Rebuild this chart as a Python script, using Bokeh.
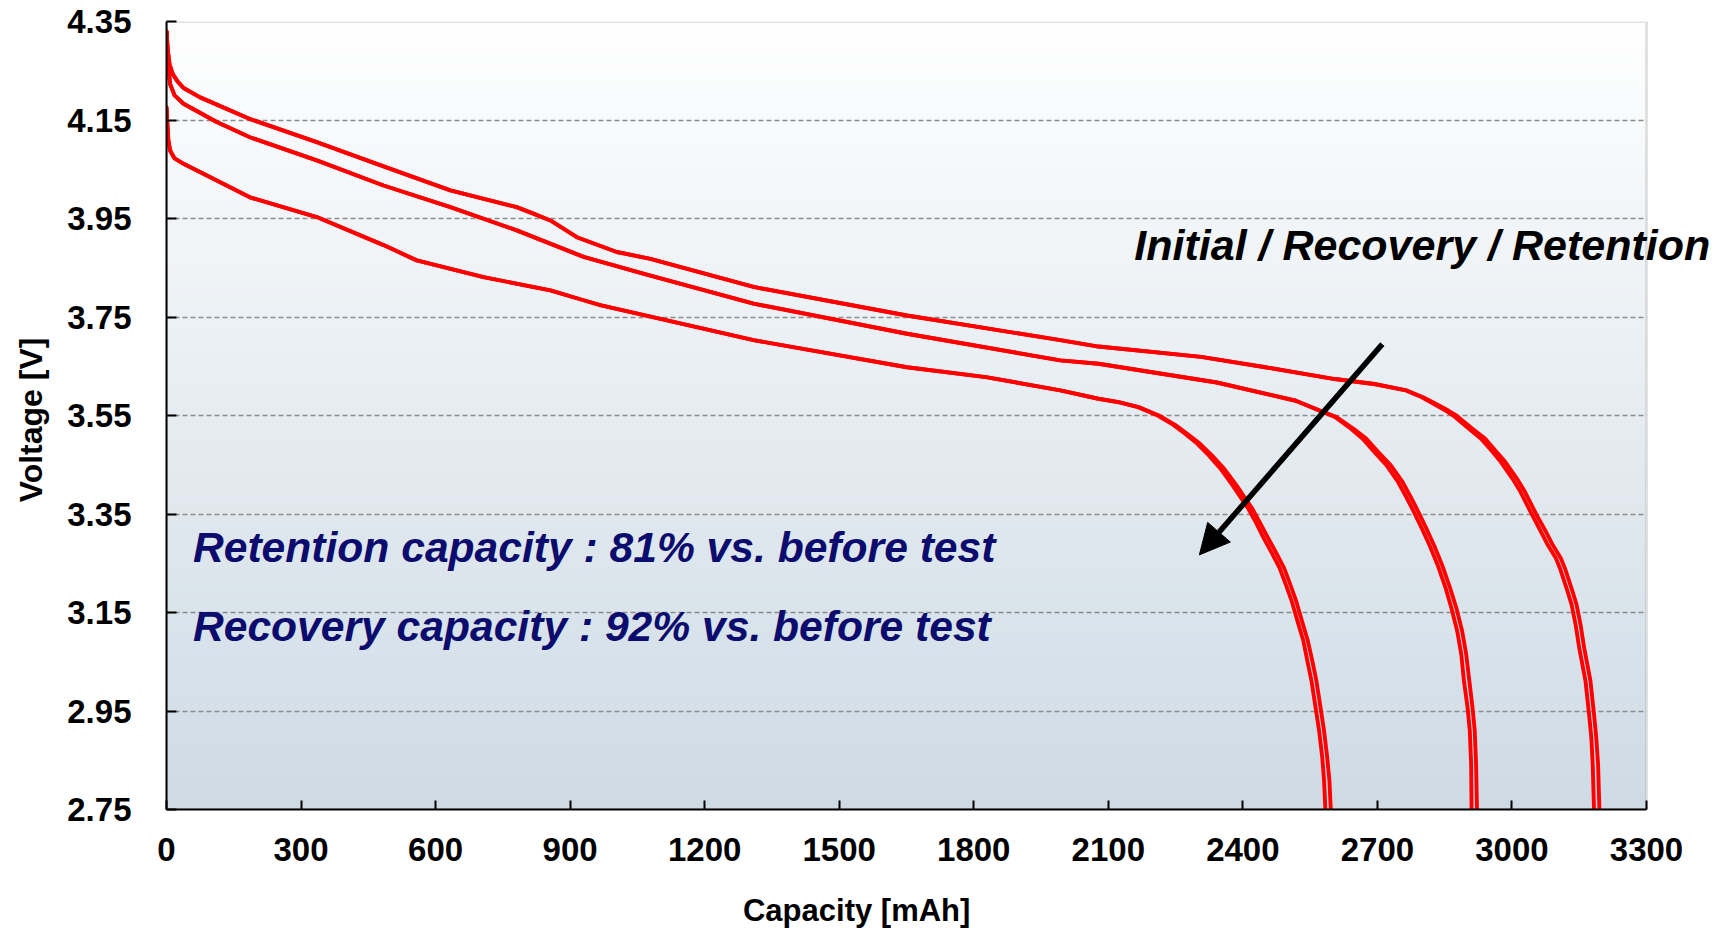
import numpy as np
from bokeh.plotting import figure
from bokeh.models import (Label, Arrow, NormalHead, FixedTicker, Range1d, PrintfTickFormatter,
                          BoxAnnotation)
from bokeh.embed import file_html
from bokeh.resources import INLINE

# ---------------- data ----------------
x_ticks = [0, 300, 600, 900, 1200, 1500, 1800, 2100, 2400, 2700, 3000, 3300]
y_ticks = [2.75, 2.95, 3.15, 3.35, 3.55, 3.75, 3.95, 4.15, 4.35]

# Initial (two runs)
initial_a_cap = [0, 3, 7, 14, 25, 38, 75, 186, 335, 484, 633, 781, 818, 856, 915, 1004, 1079, 1309, 1651,
                 1993, 2078, 2307, 2450, 2605, 2693, 2764, 2799, 2825, 2852, 2869, 2904, 2931, 2957, 2975,
                 3001, 3019, 3045, 3063, 3080, 3098, 3107, 3124, 3133, 3142, 3150, 3164, 3172, 3177, 3180,
                 3183]
initial_v = [4.33, 4.29, 4.262, 4.243, 4.228, 4.215, 4.196, 4.152, 4.105, 4.056, 4.007, 3.973, 3.960,
             3.946, 3.912, 3.882, 3.868, 3.811, 3.753, 3.703, 3.690, 3.669, 3.648, 3.624, 3.614, 3.601,
             3.587, 3.574, 3.560, 3.550, 3.523, 3.503, 3.476, 3.456, 3.422, 3.395, 3.348, 3.317, 3.287,
             3.260, 3.240, 3.193, 3.166, 3.125, 3.078, 3.011, 2.943, 2.896, 2.842, 2.75]
initial_b_cap = [0, 3, 7, 14, 25, 38, 75, 186, 335, 484, 633, 781, 818, 856, 915, 1004, 1079, 1309, 1651,
                 1993, 2078, 2307, 2450, 2605, 2693, 2764, 2802, 2830, 2858, 2876, 2912, 2940, 2966, 2985,
                 3011, 3029, 3055, 3074, 3091, 3109, 3118, 3135, 3144, 3153, 3161, 3175, 3183, 3188, 3192,
                 3195]

# Recovery (two runs)
recovery_a_cap = [0, 2, 4, 8, 18, 38, 112, 186, 335, 484, 633, 781, 930, 1079, 1309, 1651, 1993, 2078,
                  2342, 2518, 2570, 2605, 2641, 2667, 2693, 2720, 2746, 2764, 2781, 2799, 2816, 2834,
                  2852, 2865, 2878, 2887, 2893, 2901, 2906, 2909, 2910]
recovery_v = [4.33, 4.285, 4.257, 4.223, 4.200, 4.183, 4.146, 4.115, 4.068, 4.017, 3.973, 3.926, 3.872,
              3.834, 3.777, 3.716, 3.662, 3.655, 3.617, 3.580, 3.560, 3.547, 3.523, 3.503, 3.476, 3.449,
              3.415, 3.385, 3.355, 3.321, 3.287, 3.247, 3.200, 3.159, 3.112, 3.065, 3.011, 2.957, 2.910,
              2.842, 2.75]
recovery_b_cap = [0, 2, 4, 8, 18, 38, 112, 186, 335, 484, 633, 781, 930, 1079, 1309, 1651, 1993, 2078,
                  2342, 2518, 2572, 2609, 2647, 2675, 2702, 2730, 2756, 2774, 2791, 2809, 2826, 2844,
                  2862, 2876, 2889, 2898, 2905, 2912, 2917, 2920, 2922]

# Retention (two runs)
retention_a_cap = [0, 2, 4, 8, 18, 38, 112, 186, 335, 484, 558, 707, 856, 930, 967, 1309, 1651, 1827,
                   1993, 2078, 2122, 2166, 2210, 2245, 2271, 2298, 2324, 2351, 2377, 2394, 2412, 2430,
                   2447, 2465, 2482, 2496, 2509, 2522, 2535, 2544, 2553, 2561, 2570, 2577, 2581, 2584]
retention_v = [4.176, 4.14, 4.11, 4.088, 4.072, 4.061, 4.027, 3.993, 3.953, 3.896, 3.865, 3.831, 3.804,
               3.784, 3.774, 3.703, 3.648, 3.628, 3.601, 3.584, 3.577, 3.567, 3.550, 3.531, 3.513, 3.493,
               3.469, 3.441, 3.408, 3.385, 3.361, 3.331, 3.300, 3.270, 3.240, 3.206, 3.173, 3.132, 3.092,
               3.051, 3.011, 2.964, 2.910, 2.856, 2.809, 2.75]
retention_b_cap = [0, 2, 4, 8, 18, 38, 112, 186, 335, 484, 558, 707, 856, 930, 967, 1309, 1651, 1827,
                   1993, 2078, 2124, 2168, 2213, 2249, 2276, 2304, 2331, 2359, 2386, 2403, 2421, 2439,
                   2457, 2475, 2492, 2506, 2519, 2532, 2545, 2555, 2564, 2572, 2581, 2588, 2593, 2596]

x_title = "Capacity [mAh]"
y_title = "Voltage [V]"
legend_note = "Initial / Recovery / Retention"
note_retention = "Retention capacity : 81% vs. before test"
note_recovery = "Recovery capacity : 92% vs. before test"

# ---------------- figure ----------------
FONT = "Liberation Sans"
X_MAX = 3300
X_VIEW_END = 3442.7   # extra white room right of the frame for the long annotation
p = figure(width=1712, height=930, output_backend="svg", toolbar_location=None,
           x_range=Range1d(0, X_VIEW_END), y_range=Range1d(2.75, 4.35),
           min_border_left=166, min_border_right=2, min_border_top=21, min_border_bottom=120)
p.background_fill_color = "white"
p.border_fill_color = "white"
p.outline_line_color = None

# vertical gradient background of the plotting area
N = 256
t = np.linspace(0.0, 1.0, N)[:, None]
bottom_rgb = np.array([206, 219, 229])
top_rgb = np.array([255, 255, 255])
cols = (bottom_rgb + (top_rgb - bottom_rgb) * t).astype(np.uint8)
img = np.empty((N, 2), dtype=np.uint32)
view = img.view(dtype=np.uint8).reshape((N, 2, 4))
for k in range(2):
    view[:, k, 0] = cols[:, 0]
    view[:, k, 1] = cols[:, 1]
    view[:, k, 2] = cols[:, 2]
    view[:, k, 3] = 255
p.image_rgba(image=[img], x=0, y=2.75, dw=X_MAX, dh=1.6, level="image")

# grid
p.xgrid.visible = False
p.ygrid.ticker = FixedTicker(ticks=y_ticks[1:-1])
p.ygrid.grid_line_color = "#8c8c8c"
p.ygrid.grid_line_dash = "5 3"
p.ygrid.grid_line_width = 1.5

# white cover right of the data frame, then the frame border
p.add_layout(BoxAnnotation(left=X_MAX, fill_color="white", fill_alpha=1.0, line_color=None,
                           level="underlay"))
p.add_layout(BoxAnnotation(left=0, right=X_MAX, bottom=2.75, top=4.35, fill_color=None, fill_alpha=0,
                           line_color="#a0a0a0", line_width=3, level="underlay"))

# axes
for ax in (p.xaxis[0], p.yaxis[0]):
    ax.axis_line_color = "black"
    ax.axis_line_width = 2
    ax.major_tick_line_color = "black"
    ax.major_tick_line_width = 2
    ax.major_tick_out = 0
    ax.minor_tick_line_color = None
    ax.major_label_text_font = FONT
    ax.major_label_text_font_style = "bold"
    ax.major_label_text_font_size = "33px"
    ax.major_label_text_color = "black"
    ax.axis_label_text_font = FONT
    ax.axis_label_text_font_style = "bold"
    ax.axis_label_text_font_size = "31px"
    ax.axis_label_text_color = "black"

p.xaxis.bounds = (0, X_MAX)
p.xaxis.ticker = FixedTicker(ticks=x_ticks)
p.xaxis.major_tick_in = 9
p.xaxis.major_label_standoff = 28
# trailing no-break spaces move the centred title to the left, as in the original
p.xaxis.axis_label = x_title + "\u00a0" * 19
p.xaxis.axis_label_standoff = 29

p.yaxis.ticker = FixedTicker(ticks=y_ticks)
p.yaxis.formatter = PrintfTickFormatter(format="%.2f")
p.yaxis.major_tick_in = 10
p.yaxis.major_label_standoff = 35
p.yaxis.axis_label = y_title + "\u00a0"
p.yaxis.axis_label_text_font_size = "32px"
p.yaxis.axis_label_standoff = 15

# curves
RED = "#ff0000"
for cap, v in [(initial_a_cap, initial_v), (initial_b_cap, initial_v),
               (recovery_a_cap, recovery_v), (recovery_b_cap, recovery_v),
               (retention_a_cap, retention_v), (retention_b_cap, retention_v)]:
    p.line(cap, v, line_color=RED, line_width=3.9, line_join="round", line_cap="round")

# annotations
p.add_layout(Arrow(end=NormalHead(size=30, fill_color="black", line_color="black"),
                   x_start=2711, y_start=3.695, x_end=2303, y_end=3.267,
                   line_color="black", line_width=5.5))

p.add_layout(Label(x=2158, y=3.897, text=legend_note, text_font=FONT, text_font_style="bold italic",
                   text_font_size="43px", text_color="black", text_baseline="alphabetic"))
p.add_layout(Label(x=59, y=3.284, text=note_retention, text_font=FONT, text_font_style="bold italic",
                   text_font_size="42.6px", text_color="#0c0c6e", text_baseline="alphabetic"))
p.add_layout(Label(x=59, y=3.122, text=note_recovery, text_font=FONT, text_font_style="bold italic",
                   text_font_size="42.6px", text_color="#0c0c6e", text_baseline="alphabetic"))

open("out.html", "w").write(file_html(p, INLINE))
